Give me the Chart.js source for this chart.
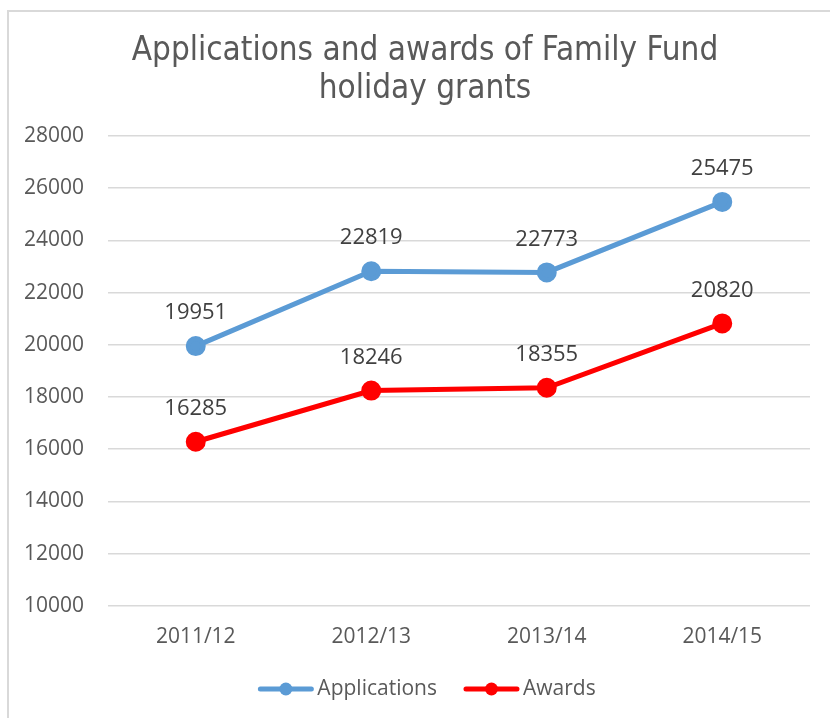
<!DOCTYPE html>
<html>
<head>
<meta charset="utf-8">
<script src="https://cdn.jsdelivr.net/npm/chart.js@4.4.1/dist/chart.umd.min.js"></script>
<style>
  html, body { margin: 0; padding: 0; background: #fff; }
  #wrap { position: relative; width: 830px; height: 718px; overflow: hidden; }
  #frame { position: absolute; left: 7px; top: 10px; width: 840px; height: 730px;
           border: 2px solid #d9d9d9; box-sizing: border-box; }
  canvas { position: absolute; left: 0; top: 0; }
</style>
</head>
<body>
<div id="wrap">
  <div id="frame"></div>
  <canvas id="chart" width="830" height="718"></canvas>
</div>
<script>
const years = ['2011/12', '2012/13', '2013/14', '2014/15'];
const applications = [19951, 22819, 22773, 25475];
const awards = [16285, 18246, 18355, 20820];
const yTicks = [10000, 12000, 14000, 16000, 18000, 20000, 22000, 24000, 26000, 28000];
const titleLines = ['Applications and awards of Family Fund', 'holiday grants'];

const blue = '#5b9bd5';
const red = '#ff0000';
const textGrey = '#595959';
const font = '"Open Sans"';

// two-line title, centred on the frame rather than the plot
const chartTitle = {
    id: 'chartTitle',
    afterDraw(chart) {
        const ctx = chart.ctx;
        ctx.save();
        ctx.font = '33px "DejaVu Sans Condensed", "DejaVu Sans"';
        ctx.fillStyle = textGrey;
        ctx.textAlign = 'center';
        ctx.textBaseline = 'middle';
        const cx = chart.width / 2 + 10;
        const top = chart.chartArea.top - 85;
        titleLines.forEach((t, i) => ctx.fillText(t, cx, top + i * 38));
        ctx.restore();
    }
};

// value labels above each point
const valueLabels = {
    id: 'valueLabels',
    afterDatasetsDraw(chart) {
        const ctx = chart.ctx;
        ctx.save();
        ctx.font = '22px ' + font;
        ctx.fillStyle = '#404040';
        ctx.textAlign = 'center';
        ctx.textBaseline = 'middle';
        chart.data.datasets.forEach((ds, i) => {
            chart.getDatasetMeta(i).data.forEach((pt, j) => {
                ctx.fillText(String(ds.data[j]), pt.x, pt.y - 33);
            });
        });
        ctx.restore();
    }
};

// legend drawn by hand: line with marker, then the name
const lineLegend = {
    id: 'lineLegend',
    afterDraw(chart) {
        const ctx = chart.ctx;
        const markW = 55, gap = 4, spacing = 27;
        ctx.save();
        ctx.font = '21px ' + font;
        const items = chart.data.datasets.map(ds => ({
            ds, w: markW + gap + ctx.measureText(ds.label).width
        }));
        const total = items.reduce((s, it) => s + it.w, 0) + spacing * (items.length - 1);
        const cx = chart.width / 2 + 12;
        const y = chart.height - 29;
        let x = cx - total / 2;
        items.forEach(({ ds, w }) => {
            ctx.strokeStyle = ds.borderColor;
            ctx.fillStyle = ds.borderColor;
            ctx.lineWidth = 5;
            ctx.lineCap = 'round';
            ctx.beginPath();
            ctx.moveTo(x + 2, y);
            ctx.lineTo(x + markW - 2, y);
            ctx.stroke();
            ctx.beginPath();
            ctx.arc(x + markW / 2, y, 6.5, 0, Math.PI * 2);
            ctx.fill();
            ctx.fillStyle = textGrey;
            ctx.textAlign = 'left';
            ctx.textBaseline = 'middle';
            ctx.fillText(ds.label, x + markW + gap, y);
            x += w + spacing;
        });
        ctx.restore();
    }
};

new Chart(document.getElementById('chart'), {
    type: 'line',
    data: {
        labels: years,
        datasets: [{
            label: 'Applications',
            data: applications,
            borderColor: blue,
            backgroundColor: blue,
            borderWidth: 5,
            pointRadius: 7.5,
            pointHoverRadius: 7.5,
            tension: 0,
        }, {
            label: 'Awards',
            data: awards,
            borderColor: red,
            backgroundColor: red,
            borderWidth: 5,
            pointRadius: 7.5,
            pointHoverRadius: 7.5,
            tension: 0,
        }]
    },
    options: {
        responsive: false,
        animation: false,
        layout: {
            padding: { top: 136, right: 20, bottom: 49, left: 0 }
        },
        plugins: {
            title: { display: false },
            legend: { display: false },
            tooltip: { enabled: false }
        },
        scales: {
            x: {
                offset: true,
                grid: { display: false, drawTicks: false },
                border: { display: false },
                ticks: {
                    color: textGrey,
                    font: { family: font, size: 21 },
                    padding: 19
                }
            },
            y: {
                min: yTicks[0],
                max: yTicks[yTicks.length - 1],
                afterBuildTicks(scale) {
                    scale.ticks = yTicks.map(v => ({ value: v }));
                },
                afterFit(scale) {
                    scale.width = 108;
                },
                grid: { color: '#d9d9d9', lineWidth: 1.5, drawTicks: false },
                border: { display: false },
                ticks: {
                    color: textGrey,
                    font: { family: font, size: 21 },
                    padding: 24,
                    callback: v => String(v)
                }
            }
        }
    },
    plugins: [valueLabels, chartTitle, lineLegend]
});
</script>
</body>
</html>
